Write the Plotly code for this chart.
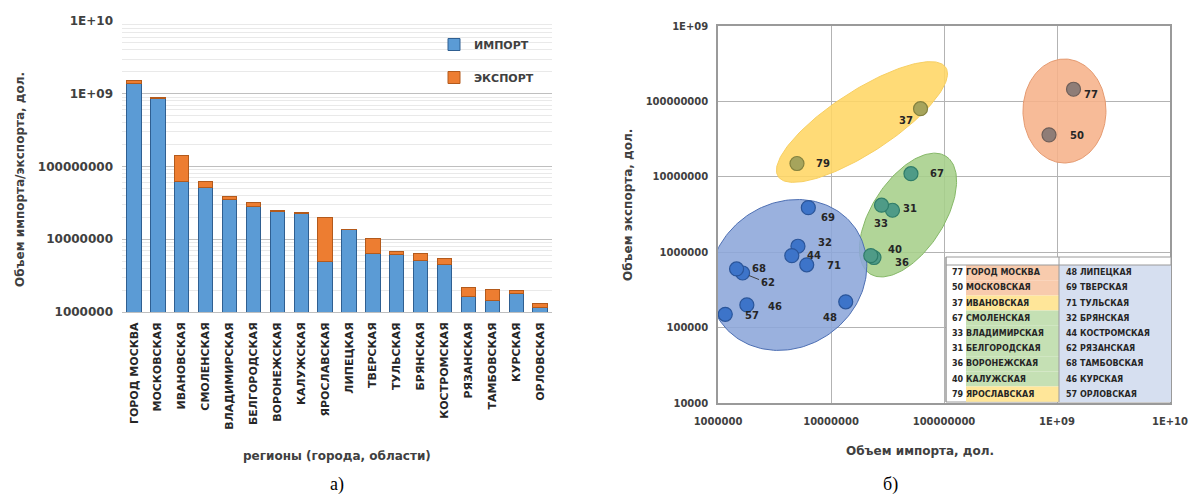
import numpy as np
import plotly.graph_objects as go

# ---- data -----------------------------------------------------------------
regions = ["ГОРОД МОСКВА", "МОСКОВСКАЯ", "ИВАНОВСКАЯ", "СМОЛЕНСКАЯ", "ВЛАДИМИРСКАЯ",
           "БЕЛГОРОДСКАЯ", "ВОРОНЕЖСКАЯ", "КАЛУЖСКАЯ", "ЯРОСЛАВСКАЯ", "ЛИПЕЦКАЯ",
           "ТВЕРСКАЯ", "ТУЛЬСКАЯ", "БРЯНСКАЯ", "КОСТРОМСКАЯ", "РЯЗАНСКАЯ",
           "ТАМБОВСКАЯ", "КУРСКАЯ", "ОРЛОВСКАЯ"]
codes = [77, 50, 37, 67, 33, 31, 36, 40, 79, 48, 69, 71, 32, 44, 62, 68, 46, 57]
imports = [1.40e9, 8.5e8, 6.2e7, 5.1e7, 3.5e7, 2.8e7, 2.4e7, 2.25e7, 5.0e6,
           1.35e7, 6.3e6, 6.1e6, 5.1e6, 4.5e6, 1.65e6, 1.46e6, 1.8e6, 1.16e6]
exports = [1.45e8, 3.6e7, 8.0e7, 1.1e7, 3.6e6, 4.2e6, 8.5e5, 9.0e5, 1.5e7,
           2.2e5, 3.9e6, 6.8e5, 1.2e6, 9.0e5, 5.3e5, 6.0e5, 2.0e5, 1.5e5]
clusters = ["orange", "orange", "yellow", "green", "green", "green", "green", "green", "yellow",
            "blue", "blue", "blue", "blue", "blue", "blue", "blue", "blue", "blue"]

left_ticks = [1e6, 1e7, 1e8, 1e9, 1e10]
left_ticktext = ["1000000", "10000000", "100000000", "1E+09", "1E+10"]
right_xticks = [1e6, 1e7, 1e8, 1e9, 1e10]
right_xticktext = ["1000000", "10000000", "100000000", "1E+09", "1E+10"]
right_yticks = [1e4, 1e5, 1e6, 1e7, 1e8, 1e9]
right_yticktext = ["10000", "100000", "1000000", "10000000", "100000000", "1E+09"]

# label offsets (px right, px down) of the region codes next to each point
label_offsets = {77: (17, 5), 50: (28, 1), 37: (-15, 12), 67: (26, 0), 33: (-11, 13),
                 31: (28, 3), 36: (28, 5), 40: (24, -6), 79: (26, 0), 48: (-16, 16),
                 69: (20, 10), 71: (27, 1), 32: (27, -4), 44: (22, 0), 62: (25, 10),
                 68: (22, 0), 46: (28, 2), 57: (27, 1)}

# ---- page geometry ----------------------------------------------------------
W, H = 1190, 496
def px(x):
    return x / W
def py(y):
    return 1 - y / H

FONT = "DejaVu Sans"
TXT = "#404040"

L_X0, L_X1, L_Y0, L_Y1 = 122, 552, 21, 312       # bar chart plot area
R_X0, R_X1, R_Y0, R_Y1 = 718, 1170, 26, 403      # scatter plot area
R_XPD = (R_X1 - R_X0) / 4                         # px per decade, x
R_YPD = (R_Y1 - R_Y0) / 5                         # px per decade, y

cluster_fill = {"orange": "rgba(246,178,138,0.88)", "yellow": "rgba(255,214,100,0.88)",
                "green": "rgba(166,207,138,0.88)", "blue": "rgba(140,166,218,0.88)"}
cluster_edge = {"orange": "#e59a70", "yellow": "#f7cf62", "green": "#86b868", "blue": "#4d6fb3"}
cluster_marker = {"orange": "#8f7d77", "yellow": "#a6a45c", "green": "#4f9b87", "blue": "#3d74c9"}
cluster_marker_edge = {"orange": "#6f5f59", "yellow": "#84823f", "green": "#2f7c69", "blue": "#2a559a"}
table_cell = {"orange": "#f8cbad", "yellow": "#ffe699", "green": "#c5e0b4", "blue": "#d6dff0"}

# ellipse outlines around each cluster: centre (import, export), semi-axes (px), tilt (deg)
ellipses = {"orange": (1.164e9, 7.46e7, 41.5, 52, 0),
            "yellow": (1.88e7, 5.33e7, 100, 31, 33),
            "green": (4.8e7, 3.11e6, 70, 36, 57),
            "blue": (4.16e6, 4.99e5, 82, 72, 35)}


def ellipse_path(cx, cy, a, b, angle):
    t = np.linspace(0, 2 * np.pi, 181)
    th = np.radians(angle)
    dx = a * np.cos(t) * np.cos(th) - b * np.sin(t) * np.sin(th)
    dy = a * np.cos(t) * np.sin(th) + b * np.sin(t) * np.cos(th)
    return 10 ** (np.log10(cx) + dx / R_XPD), 10 ** (np.log10(cy) + dy / R_YPD)


fig = go.Figure()

# ---- (a) stacked bars --------------------------------------------------------
fig.add_trace(go.Bar(x=regions, y=imports, name="ИМПОРТ", legendgroup="imp",
                     marker=dict(color="#5b9bd5", line=dict(color="#2f5f91", width=1)),
                     xaxis="x", yaxis="y"))
fig.add_trace(go.Bar(x=regions, y=exports, name="ЭКСПОРТ", legendgroup="exp",
                     marker=dict(color="#ed7d31", line=dict(color="#b35a1c", width=1)),
                     xaxis="x", yaxis="y"))

# ---- (b) scatter with cluster ellipses --------------------------------------
for cl, (cx, cy, a, b, ang) in ellipses.items():
    ex, ey = ellipse_path(cx, cy, a, b, ang)
    fig.add_trace(go.Scatter(x=ex, y=ey, mode="lines", fill="toself",
                             fillcolor=cluster_fill[cl],
                             line=dict(color=cluster_edge[cl], width=1),
                             hoverinfo="skip", showlegend=False, xaxis="x2", yaxis="y2"))

for cl in ["blue", "green", "yellow", "orange"]:
    idx = [i for i, c in enumerate(clusters) if c == cl]
    fig.add_trace(go.Scatter(x=[imports[i] for i in idx], y=[exports[i] for i in idx],
                             mode="markers", text=[regions[i] for i in idx],
                             marker=dict(size=14, color=cluster_marker[cl],
                                         line=dict(color=cluster_marker_edge[cl], width=1.2)),
                             showlegend=False, xaxis="x2", yaxis="y2"))

code_font = dict(family=FONT, size=10, color="#262626", weight="bold")
annotations = []
for i, c in enumerate(codes):
    dxp, dyp = label_offsets[c]
    if c == 62:
        ann = dict(x=np.log10(imports[i]), y=np.log10(exports[i]), xref="x2", yref="y2",
                   text=str(c), showarrow=True, arrowhead=0, arrowwidth=1,
                   arrowcolor="#404040", ax=dxp, ay=dyp, standoff=7, font=code_font)
    else:
        ann = dict(x=np.log10(imports[i]), y=np.log10(exports[i]), xref="x2", yref="y2",
                   text=str(c), showarrow=False, xshift=dxp, yshift=-dyp,
                   xanchor="center", yanchor="middle", font=code_font)
    annotations.append(ann)

# ---- region key table inside (b) ---------------------------------------------
shapes = []
T_X0, T_XM, T_X1 = 946, 1059, 1171
T_TOP, T_Y0, ROW = 257, 265, 15.2
shapes.append(dict(type="rect", xref="paper", yref="paper", x0=px(T_X0), x1=px(T_X1),
                   y0=py(402), y1=py(T_TOP), fillcolor="white",
                   line=dict(color="#9a9a9a", width=1), layer="above"))
shapes.append(dict(type="rect", xref="paper", yref="paper", x0=px(T_XM), x1=px(T_X1),
                   y0=py(402), y1=py(T_Y0), fillcolor=table_cell["blue"],
                   line=dict(width=0), layer="above"))
left_rows = list(range(0, 9))
right_rows = list(range(9, 18))
for r, i in enumerate(left_rows):
    yt = T_Y0 + r * ROW
    shapes.append(dict(type="rect", xref="paper", yref="paper", x0=px(966), x1=px(T_XM),
                       y0=py(yt + ROW), y1=py(yt), fillcolor=table_cell[clusters[i]],
                       line=dict(width=0), layer="above"))
for x0 in (T_X0, T_XM):
    shapes.append(dict(type="line", xref="paper", yref="paper", x0=px(x0), x1=px(x0),
                       y0=py(402), y1=py(T_TOP), line=dict(color="#9a9a9a", width=1),
                       layer="above"))
shapes.append(dict(type="line", xref="paper", yref="paper", x0=px(T_X0), x1=px(T_X1),
                   y0=py(T_Y0), y1=py(T_Y0), line=dict(color="#9a9a9a", width=1),
                   layer="above"))

tfont = dict(family=FONT, size=8, color="#262626", weight="bold")
for col, rows, xnum in ((0, left_rows, 950), (1, right_rows, 1064)):
    for r, i in enumerate(rows):
        yc = T_Y0 + r * ROW + ROW / 2
        annotations.append(dict(x=px(xnum), y=py(yc), xref="paper", yref="paper",
                                text=f"{codes[i]} {regions[i]}", showarrow=False,
                                xanchor="left", yanchor="middle", font=tfont))

# ---- axis titles and captions -------------------------------------------------
tt = dict(family=FONT, size=12, color=TXT, weight="bold")
cap = dict(family="Liberation Serif", size=18, color="black")
annotations += [
    dict(x=px(20), y=py(180), xref="paper", yref="paper", text="Объем импорта/экспорта, дол.",
         textangle=-90, showarrow=False, xanchor="center", yanchor="middle", font=tt),
    dict(x=px(337), y=py(456), xref="paper", yref="paper", text="регионы (города, области)",
         showarrow=False, xanchor="center", yanchor="middle", font=tt),
    dict(x=px(628), y=py(205), xref="paper", yref="paper", text="Объем экспорта, дол.",
         textangle=-90, showarrow=False, xanchor="center", yanchor="middle", font=tt),
    dict(x=px(920), y=py(451), xref="paper", yref="paper", text="Объем импорта, дол.",
         showarrow=False, xanchor="center", yanchor="middle", font=tt),
    dict(x=px(337), y=py(484), xref="paper", yref="paper", text="а)", showarrow=False,
         xanchor="center", yanchor="middle", font=cap),
    dict(x=px(890), y=py(484), xref="paper", yref="paper", text="б)", showarrow=False,
         xanchor="center", yanchor="middle", font=cap),
]

minor_vals = [k * 10 ** d for d in range(6, 10) for k in range(2, 10)]

fig.update_layout(
    width=W, height=H, margin=dict(l=0, r=0, t=0, b=0),
    paper_bgcolor="white", plot_bgcolor="white",
    barmode="stack", bargap=0.4,
    font=dict(family=FONT, color=TXT),
    showlegend=True,
    legend=dict(x=px(434), y=py(30), xanchor="left", yanchor="top", traceorder="grouped",
                tracegroupgap=14, bgcolor="rgba(0,0,0,0)",
                font=dict(family=FONT, size=11, color=TXT, weight="bold")),
    xaxis=dict(domain=[px(L_X0), px(L_X1)], anchor="y", tickangle=-90,
               tickfont=dict(family=FONT, size=11, color="#262626", weight="bold"),
               showline=True, linecolor="#bfbfbf", ticks="", showgrid=False,
               ticklabelstandoff=5, automargin=False),
    yaxis=dict(domain=[py(L_Y1), py(L_Y0)], anchor="x", type="log", range=[6, 10],
               tickvals=left_ticks, ticktext=left_ticktext,
               tickfont=dict(family=FONT, size=12, color=TXT, weight="bold"),
               showgrid=True, gridcolor="#bfbfbf", gridwidth=1, zeroline=False,
               showline=False, ticks="", ticklabelstandoff=8, automargin=False,
               minor=dict(tickvals=minor_vals, showgrid=True, gridcolor="#e9e9e9",
                          gridwidth=1, ticks="")),
    xaxis2=dict(domain=[px(R_X0), px(R_X1)], anchor="y2", type="log", range=[6, 10],
                tickvals=right_xticks, ticktext=right_xticktext,
                tickfont=dict(family=FONT, size=10, color=TXT, weight="bold"),
                showgrid=True, gridcolor="#b3b3b3", showline=True, mirror=True,
                linecolor="#9a9a9a", linewidth=1.5, ticks="", ticklabelstandoff=8,
                automargin=False),
    yaxis2=dict(domain=[py(R_Y1), py(R_Y0)], anchor="x2", type="log", range=[4, 9],
                tickvals=right_yticks, ticktext=right_yticktext,
                tickfont=dict(family=FONT, size=10, color=TXT, weight="bold"),
                showgrid=True, gridcolor="#b3b3b3", showline=True, mirror=True,
                linecolor="#9a9a9a", linewidth=1.5, ticks="", zeroline=False,
                ticklabelstandoff=6, automargin=False),
    shapes=shapes,
    annotations=annotations,
)

fig.write_html("out.html")
